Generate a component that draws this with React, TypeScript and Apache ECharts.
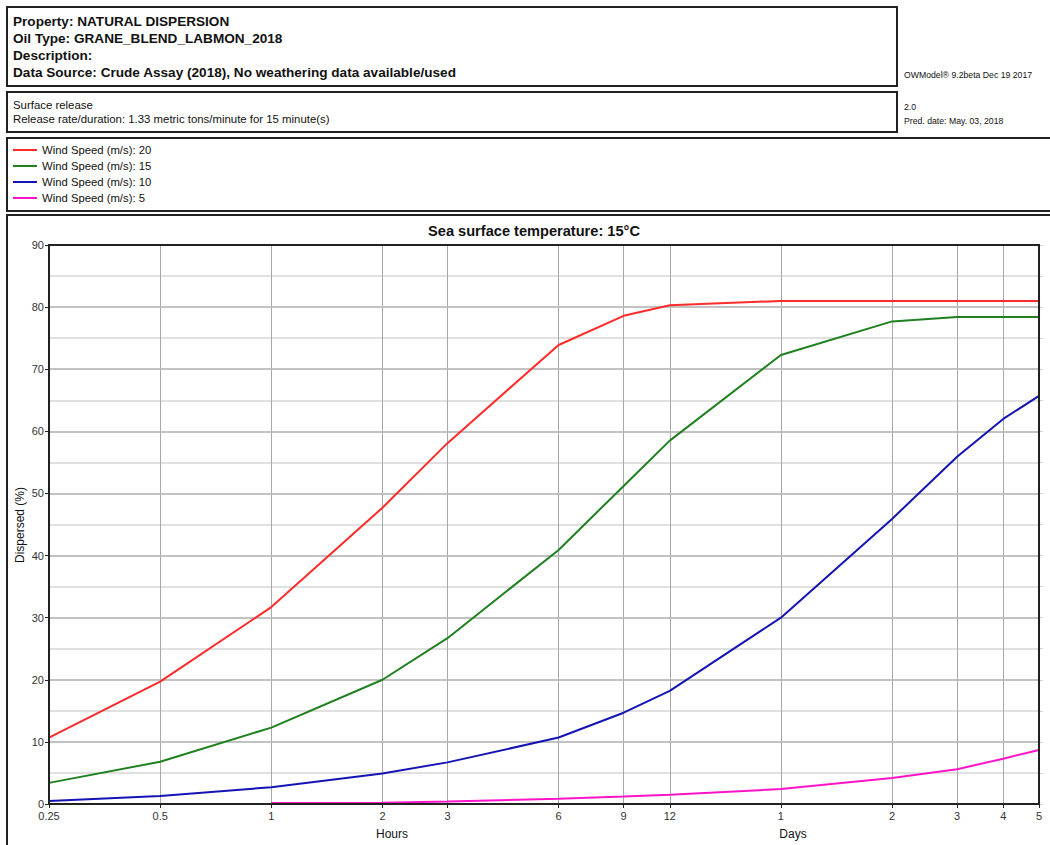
import React, { useEffect, useRef } from "react";
import * as echarts from "echarts";

// Elapsed time (hours) at which the model output was sampled
const timeHours = [0.25, 0.5, 1, 2, 3, 6, 9, 12, 24, 48, 72, 96, 120];
// Percent of oil naturally dispersed, per wind speed
const wind20 = [10.7, 19.7, 31.7, 47.7, 58.1, 73.9, 78.6, 80.3, 81.0, 81.0, 81.0, 81.0, 81.0];
const wind15 = [3.4, 6.8, 12.3, 20.0, 26.7, 40.9, 51.2, 58.5, 72.3, 77.7, 78.4, 78.4, 78.4];
const wind10 = [0.5, 1.3, 2.7, 4.9, 6.7, 10.7, 14.7, 18.2, 30.0, 45.9, 55.9, 62.0, 65.7];
const wind5 = [null, null, 0.15, 0.2, 0.4, 0.85, 1.2, 1.5, 2.4, 4.2, 5.6, 7.3, 8.7];

// Time axis tick marks (hours); ticks from one day on are labelled in days
const tickHours = [0.25, 0.5, 1, 2, 3, 6, 9, 12, 24, 48, 72, 96, 120];

const seriesDefs = [
  { name: "Wind Speed (m/s): 20", values: wind20, color: "#ff2a2a" },
  { name: "Wind Speed (m/s): 15", values: wind15, color: "#1e801e" },
  { name: "Wind Speed (m/s): 10", values: wind10, color: "#1414b4" },
  { name: "Wind Speed (m/s): 5", values: wind5, color: "#ff14c8" },
];

const FONT = "'Liberation Sans', Arial, sans-serif";
const BORDER = "#222";

const GRID = { left: 49, top: 245, right: 1039, bottom: 804 };

function formatTick(v: number): string {
  const h = Math.pow(2, v);
  if (h >= 23) return String(Math.round(h / 24));
  return String(Math.round(h * 100) / 100);
}

export default function App() {
  const ref = useRef<HTMLDivElement>(null);

  useEffect(() => {
    document.body.style.margin = "0";
    if (!ref.current) return;
    const chart = echarts.init(ref.current, null, { renderer: "svg" });

    const box = (x: number, y: number, w: number, h: number) => ({
      type: "rect",
      shape: { x, y, width: w, height: h },
      style: { fill: "none", stroke: BORDER, lineWidth: 2 },
      silent: true,
    });
    const txt = (
      x: number,
      y: number,
      text: string,
      size: number,
      bold = false,
      align = "left"
    ) => ({
      type: "text",
      x,
      y,
      style: {
        text,
        fill: "#111",
        font: `${bold ? "bold " : ""}${size}px ${FONT}`,
        textAlign: align,
        textVerticalAlign: "middle",
      },
      silent: true,
    });

    const option: any = {
      animation: false,
      backgroundColor: "#fff",
      textStyle: { fontFamily: FONT },
      grid: {
        left: GRID.left,
        top: GRID.top,
        width: GRID.right - GRID.left,
        height: GRID.bottom - GRID.top,
        containLabel: false,
      },
      legend: {
        orient: "vertical",
        left: 8,
        top: 137,
        itemWidth: 24,
        itemHeight: 2,
        itemGap: 0,
        icon: "rect",
        selectedMode: false,
        textStyle: { fontSize: 11.3, color: "#111", lineHeight: 16, fontFamily: FONT },
        data: seriesDefs.map((s) => s.name),
      },
      xAxis: [
        {
          // data axis: logarithmic time in hours
          type: "log",
          logBase: 2,
          min: 0.25,
          max: 120,
          show: false,
        },
        {
          // labelled overlay axis in log2(hours)
          type: "value",
          position: "bottom",
          min: Math.log2(0.25),
          max: Math.log2(120),
          axisLine: { show: true, onZero: false, lineStyle: { color: BORDER, width: 2 } },
          axisTick: {
            show: true,
            length: 4,
            customValues: tickHours.map((h) => Math.log2(h)),
            lineStyle: { color: BORDER },
          },
          axisLabel: {
            show: true,
            customValues: tickHours.map((h) => Math.log2(h)),
            formatter: (v: number) => formatTick(v),
            fontSize: 11,
            color: "#333",
            margin: 6,
            showMinLabel: true,
            showMaxLabel: true,
          },
          splitLine: { show: true, lineStyle: { color: "#a8a8a8", width: 1 } },
        },
      ],
      yAxis: [
        {
          type: "value",
          min: 0,
          max: 90,
          interval: 10,
          z: 1,
          axisLine: { show: true, onZero: false, lineStyle: { color: BORDER, width: 2 } },
          axisTick: { show: true, length: 4, lineStyle: { color: BORDER } },
          axisLabel: { fontSize: 11, color: "#333", margin: 5 },
          splitLine: { show: true, lineStyle: { color: "#b8b8b8", width: 1.5 } },
        },
        {
          type: "value",
          min: 0,
          max: 90,
          interval: 5,
          z: 0,
          axisLine: { show: false, onZero: false },
          axisTick: { show: true, length: 4, lineStyle: { color: "#d4d4d4" } },
          axisLabel: { show: false },
          splitLine: { show: true, lineStyle: { color: "#d6d6d6", width: 1.5 } },
        },
      ],
      series: seriesDefs.map((s) => ({
        name: s.name,
        type: "line",
        xAxisIndex: 0,
        yAxisIndex: 0,
        symbol: "none",
        smooth: false,
        connectNulls: false,
        z: 5,
        lineStyle: { color: s.color, width: 2 },
        itemStyle: { color: s.color },
        data: timeHours.map((h, i) => [h, s.values[i] === null ? "-" : s.values[i]]),
      })),
      graphic: [
        box(7, 7, 890, 79),
        box(7, 92, 890, 40),
        box(7, 138, 1060, 73),
        box(7, 215, 1060, 660),
        txt(13, 21, "Property: NATURAL DISPERSION", 13.6, true),
        txt(13, 38, "Oil Type: GRANE_BLEND_LABMON_2018", 13.6, true),
        txt(13, 55, "Description:", 13.6, true),
        txt(13, 72, "Data Source: Crude Assay (2018), No weathering data available/used", 13.6, true),
        txt(13, 105, "Surface release", 11.4),
        txt(13, 119, "Release rate/duration: 1.33 metric tons/minute for 15 minute(s)", 11.4),
        txt(904, 75, "OWModel\u00ae 9.2beta Dec 19 2017", 8.7),
        txt(904, 107, "2.0", 8.7),
        txt(904, 121, "Pred. date: May. 03, 2018", 8.7),
        txt(534, 231, "Sea surface temperature: 15\u00b0C", 14.6, true, "center"),
        txt(392, 834, "Hours", 12, false, "center"),
        txt(793, 834, "Days", 12, false, "center"),
        {
          type: "text",
          x: 20,
          y: 525,
          rotation: Math.PI / 2,
          style: {
            text: "Dispersed (%)",
            fill: "#111",
            font: `12px ${FONT}`,
            textAlign: "center",
            textVerticalAlign: "middle",
          },
          silent: true,
        },
        {
          type: "rect",
          z: 100,
          shape: {
            x: GRID.left,
            y: GRID.top,
            width: GRID.right - GRID.left,
            height: GRID.bottom - GRID.top,
          },
          style: { fill: "none", stroke: BORDER, lineWidth: 2 },
          silent: true,
        },
      ],
    };

    chart.setOption(option);
    return () => chart.dispose();
  }, []);

  return <div ref={ref} style={{ width: 1050, height: 845 }} />;
}
